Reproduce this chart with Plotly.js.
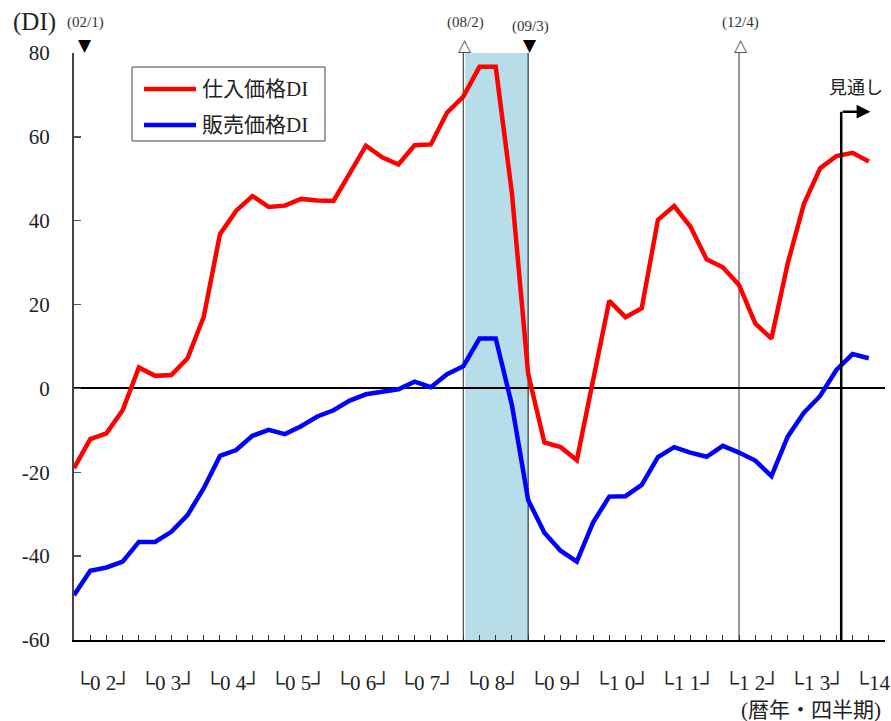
<!DOCTYPE html>
<html>
<head>
<meta charset="utf-8">
<script src="https://cdn.plot.ly/plotly-3.0.1.min.js"></script>
<style>html,body{margin:0;padding:0;background:#fff;}#chart{width:891px;height:721px;}</style>
</head>
<body>
<div id="chart"></div>
<script>
// Quarters from 2002 Q1 to 2014 Q2 (last one is the forecast)
const quarters = [];
for (let y = 2; y <= 14; y++) for (let q = 1; q <= 4; q++) quarters.push((y < 10 ? '0' + y : '' + y) + 'Q' + q);
quarters.length = 50;

// 仕入価格DI (input prices)
const purchaseDI = [-19.0, -12.1, -10.7, -5.2, 5.0, 3.0, 3.2, 7.2, 17.1, 36.8,
  42.4, 45.9, 43.3, 43.6, 45.2, 44.8, 44.7, 51.2, 57.9, 55.1,
  53.4, 58.0, 58.2, 65.8, 69.6, 76.7, 76.7, 46.5, 3.5, -12.9,
  -14.0, -17.1, 2.0, 20.9, 17.0, 19.1, 40.2, 43.5, 38.6, 30.8,
  28.9, 24.7, 15.5, 11.9, 29.8, 44.0, 52.5, 55.4, 56.2, 54.1];

// 販売価格DI (output prices)
const salesDI = [-49.3, -43.5, -42.7, -41.3, -36.6, -36.6, -34.2, -30.2, -23.8, -16.1,
  -14.7, -11.3, -9.9, -10.9, -9.0, -6.7, -5.2, -2.9, -1.4, -0.8,
  -0.2, 1.6, 0.3, 3.4, 5.3, 11.9, 11.9, -4.0, -26.6, -34.4,
  -38.7, -41.3, -32.0, -25.8, -25.7, -23.0, -16.4, -14.0, -15.3, -16.3,
  -13.7, -15.3, -17.2, -20.9, -11.5, -5.8, -1.8, 4.4, 8.2, 7.2];

const seriesNames = ['仕入価格DI', '販売価格DI'];
const seriesColors = ['#ff0000', '#0000ff'];
const yearLabels = ['└0 2┘', '└0 3┘', '└0 4┘', '└0 5┘', '└0 6┘', '└0 7┘', '└0 8┘', '└0 9┘', '└1 0┘', '└1 1┘', '└1 2┘', '└1 3┘', '└14'];
const yTickVals = [80, 60, 40, 20, 0, -20, -40, -60];
const yTickText = ['80', '60', '40', '20', '0', '-20', '-40', '-60'];

// Business cycle peaks / troughs: [label, quarter, symbol]
const cycleMarks = [['(02/1)', '02Q1', '▼'], ['(08/2)', '08Q1', '△'], ['(09/3)', '09Q1', '▼'], ['(12/4)', '12Q2', '△']];

const xIdx = quarters.map((q, i) => i);
const idxOf = q => quarters.indexOf(q);

const FONT = '"Liberation Serif", "Noto Sans CJK JP", serif';

// plot area in pixels: left 74, right 885, top 53, bottom 640
const L = 74, R = 885, T = 53, B = 640;
const px = x => (x - L) / (R - L);
const py = y => (B - y) / (B - T);

const traces = [
  {x: xIdx, y: purchaseDI, name: seriesNames[0], type: 'scatter', mode: 'lines',
   line: {color: seriesColors[0], width: 4.5}, showlegend: false},
  {x: xIdx, y: salesDI, name: seriesNames[1], type: 'scatter', mode: 'lines',
   line: {color: seriesColors[1], width: 4.5}, showlegend: false}
];

const shapes = [
  {type: 'rect', xref: 'x', yref: 'paper', x0: idxOf('08Q1') + 0.12, x1: idxOf('09Q1'), y0: 0, y1: 1,
   fillcolor: '#b7dde8', line: {width: 0}, layer: 'below'},
  {type: 'line', xref: 'x', yref: 'paper', x0: idxOf('08Q1'), x1: idxOf('08Q1'), y0: 0, y1: 1,
   line: {color: '#222', width: 1}, layer: 'below'},
  {type: 'line', xref: 'x', yref: 'paper', x0: idxOf('09Q1'), x1: idxOf('09Q1'), y0: 0, y1: 1,
   line: {color: '#333', width: 1.2}, layer: 'below'},
  {type: 'line', xref: 'x', yref: 'paper', x0: idxOf('12Q2'), x1: idxOf('12Q2'), y0: 0, y1: 1,
   line: {color: '#777', width: 1.5}, layer: 'below'},
  // forecast marker
  {type: 'line', xref: 'x', yref: 'y', x0: 47.3, x1: 47.3, y0: -60, y1: 66,
   line: {color: '#000', width: 2.5}, layer: 'above'},
  // legend box
  {type: 'rect', xref: 'paper', yref: 'paper', x0: px(132), x1: px(325), y0: py(141), y1: py(67),
   fillcolor: '#fff', line: {color: '#444', width: 1}, layer: 'above'}
];

const annotations = [
  {xref: 'paper', yref: 'paper', x: px(34), y: py(22), text: '(DI)', showarrow: false,
   xanchor: 'center', yanchor: 'middle', font: {family: FONT, size: 25, color: '#222'}},
  {xref: 'paper', yref: 'paper', x: px(883), y: py(710), text: '(暦年・四半期)', showarrow: false,
   font: {family: FONT, size: 21, color: '#222'}, xanchor: 'right', yanchor: 'middle'},
  {xref: 'x', yref: 'y', x: 49.1, y: 66, ax: 47.3, ay: 66, axref: 'x', ayref: 'y', text: '',
   showarrow: true, arrowhead: 2, arrowsize: 1.1, arrowwidth: 2.5, arrowcolor: '#000'},
  {xref: 'paper', yref: 'paper', x: px(856), y: py(88), text: '見通し', showarrow: false,
   xanchor: 'center', yanchor: 'middle', font: {family: FONT, size: 18, color: '#222'}}
];

// legend samples + texts
const legendRows = [89, 125];
seriesNames.forEach((n, i) => {
  shapes.push({type: 'line', xref: 'paper', yref: 'paper', x0: px(144), x1: px(196),
    y0: py(legendRows[i]), y1: py(legendRows[i]), line: {color: seriesColors[i], width: 4.5}, layer: 'above'});
  annotations.push({xref: 'paper', yref: 'paper', x: px(200), y: py(legendRows[i]), text: n, showarrow: false,
    xanchor: 'left', yanchor: 'middle', font: {family: FONT, size: 21, color: '#222'}});
});

yearLabels.forEach((t, i) => {
  annotations.push({xref: 'paper', yref: 'paper', x: px(L + i * 4 * (R - L) / 50 - 1), y: py(682), text: t, showarrow: false,
    xanchor: 'left', yanchor: 'middle', font: {family: FONT, size: 21, color: '#222'}});
});

cycleMarks.forEach(([lab, q, sym]) => {
  let k = idxOf(q);
  let xk = k === 0 ? 0.7 : k + 0.12;
  let ly = lab === '(09/3)' ? 27 : 23;
  annotations.push({xref: 'x', yref: 'paper', x: xk, y: py(ly), text: lab, showarrow: false,
    xanchor: 'center', yanchor: 'middle', font: {family: FONT, size: 15, color: '#333'}});
  annotations.push({xref: 'x', yref: 'paper', x: xk, y: py(45), text: sym, showarrow: false,
    xanchor: 'center', yanchor: 'middle',
    font: {family: '"DejaVu Sans", sans-serif', size: 17, color: sym === '▼' ? '#000' : '#555'}});
});

const layout = {
  width: 891, height: 721,
  margin: {l: L, r: 891 - R, t: T, b: 721 - B},
  paper_bgcolor: '#fff', plot_bgcolor: '#fff',
  showlegend: false,
  xaxis: {range: [0, 50], tickvals: Array.from({length: 51}, (_, i) => i), showticklabels: false,
    ticks: 'inside', ticklen: 5, tickcolor: '#333', tickwidth: 1,
    showgrid: false, zeroline: false, showline: true, linecolor: '#000', linewidth: 2},
  yaxis: {range: [-60, 80], tickvals: yTickVals, ticktext: yTickText,
    ticks: 'inside', ticklen: 7, tickcolor: '#555', tickwidth: 1.5,
    ticklabelstandoff: 18,
    tickfont: {family: FONT, size: 21, color: '#222'},
    showgrid: false, zeroline: true, zerolinecolor: '#000', zerolinewidth: 2,
    showline: true, linecolor: '#444', linewidth: 2},
  shapes: shapes,
  annotations: annotations
};

Plotly.newPlot('chart', traces, layout, {staticPlot: true, displayModeBar: false});
</script>
</body>
</html>
